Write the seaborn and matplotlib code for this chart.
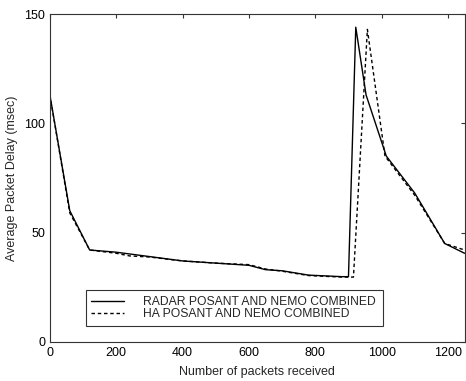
import numpy as np
import pandas as pd
import matplotlib
matplotlib.use("Agg")
import matplotlib.pyplot as plt
import seaborn as sns

sns.set_style("white")
plt.rcParams['font.family'] = ['Liberation Sans', 'DejaVu Sans']

# readings
radar_x = [0, 60, 120, 200, 300, 400, 500, 600, 650, 700, 780, 880, 900, 922, 953, 1014, 1100, 1190, 1250]
radar_y = [113, 60, 42, 41, 39, 37, 36, 35, 33, 32.5, 30.5, 29.8, 29.8, 144, 113, 85, 68, 45, 40.5]
ha_x = [0, 60, 120, 200, 240, 300, 400, 500, 600, 650, 700, 780, 880, 915, 957, 1010, 1100, 1190, 1250]
ha_y = [113, 59, 42, 40.5, 39.3, 38.8, 37, 36, 35.3, 33.3, 32.3, 30.3, 29.6, 29.6, 143, 85, 67, 45, 42]

radar = pd.DataFrame({'packets': radar_x, 'delay': radar_y})
ha = pd.DataFrame({'packets': ha_x, 'delay': ha_y})

fig = plt.figure(figsize=(4.66, 3.81), dpi=100)
ax = fig.add_axes([0.107, 0.103, 0.890, 0.860])

sns.lineplot(data=radar, x='packets', y='delay', color='black', lw=1.0,
             sort=False, ax=ax, label='RADAR POSANT AND NEMO COMBINED')
sns.lineplot(data=ha, x='packets', y='delay', color='black', lw=1.0,
             linestyle=(0, (2.5, 2)), sort=False, ax=ax,
             label='HA POSANT AND NEMO COMBINED')

ax.set_xlim(0, 1250)
ax.set_ylim(0, 150)
ax.set_xticks([0, 200, 400, 600, 800, 1000, 1200])
ax.set_yticks([0, 50, 100, 150])
ax.tick_params(direction='in', length=3, width=0.8, labelsize=9,
               top=True, right=True, colors='#333333', labelcolor='black')
for s in ax.spines.values():
    s.set_color('#333333')
    s.set_linewidth(0.8)

ax.set_xlabel('Number of packets received', fontsize=9, labelpad=5)
ax.set_ylabel('Average Packet Delay (msec)', fontsize=9)

leg = ax.legend(loc='lower left', bbox_to_anchor=(0.072, 0.03, 0.745, 0.12),
                mode='expand', fontsize=8.7, frameon=True, fancybox=False,
                handlelength=2.7, borderpad=0.45, labelspacing=0.05,
                handletextpad=1.6)
leg.get_frame().set_edgecolor('black')
leg.get_frame().set_linewidth(0.8)

fig.savefig('out.png', dpi=100)
